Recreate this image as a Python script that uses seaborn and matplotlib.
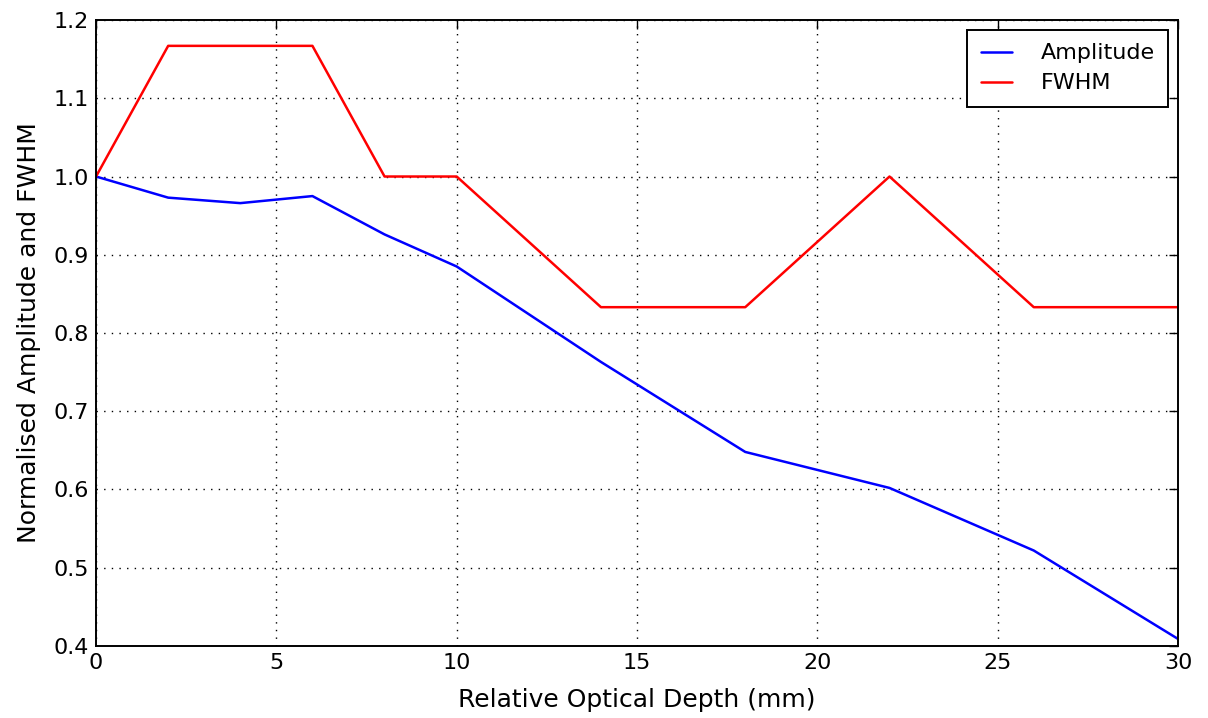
import pandas as pd
import matplotlib
matplotlib.use("Agg")
import matplotlib.pyplot as plt
import seaborn as sns

# values
depth = [0, 2, 4, 6, 8, 10, 14, 18, 22, 26, 30]
amplitude = [1.0, 0.973, 0.966, 0.975, 0.926, 0.885, 0.763, 0.648, 0.602, 0.522, 0.409]
fwhm = [1.0, 1.167, 1.167, 1.167, 1.0, 1.0, 0.833, 0.833, 1.0, 0.833, 0.833]

sns.set_style("white")
plt.rcParams["font.family"] = ["DejaVu Sans"]
plt.rcParams.update({"text.color": "black", "axes.labelcolor": "black",
                     "xtick.color": "black", "ytick.color": "black"})

df = pd.DataFrame({"depth": depth, "Amplitude": amplitude, "FWHM": fwhm})
long_df = df.melt(id_vars="depth", var_name="series", value_name="value")

fig = plt.figure(figsize=(12.08, 7.18), dpi=100)
ax = fig.add_axes([0.0795, 0.1003, 0.8957, 0.8718])

sns.lineplot(data=long_df, x="depth", y="value", hue="series",
             palette={"Amplitude": "#0000ff", "FWHM": "#ff0000"},
             linewidth=1.8, ax=ax)

ax.set_xlim(0, 30)
ax.set_ylim(0.4, 1.2)
ax.set_xticks([0, 5, 10, 15, 20, 25, 30])
ax.set_yticks([0.4, 0.5, 0.6, 0.7, 0.8, 0.9, 1.0, 1.1, 1.2])
ax.set_xlabel("Relative Optical Depth (mm)", fontsize=18, labelpad=11)
ax.set_ylabel("Normalised Amplitude and FWHM", fontsize=18, labelpad=9)
ax.grid(True, color="black", linestyle=(0, (1, 4.5)), linewidth=1.0)
ax.tick_params(direction="in", length=6.5, width=1.0, labelsize=16,
               top=True, right=True, pad=5)
for s in ax.spines.values():
    s.set_color("black")
    s.set_linewidth(1.4)

leg = ax.legend(loc="upper right", fontsize=16, fancybox=False, framealpha=1,
                edgecolor="black", handlelength=1.4, borderpad=0.6,
                handletextpad=1.3, labelspacing=0.45, borderaxespad=0.45)
leg.get_frame().set_linewidth(1.4)

fig.savefig("out.png", dpi=100)
